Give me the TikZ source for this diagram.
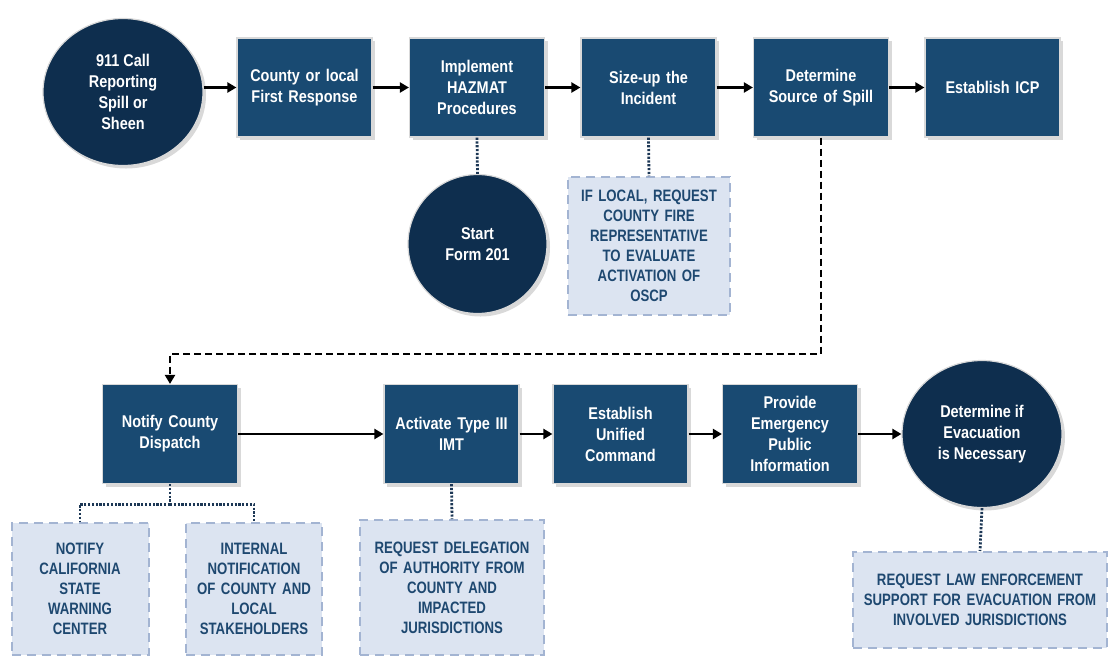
\documentclass[tikz,border=0pt]{standalone}
\usepackage{fontspec}
\newfontfamily\diagfont[FakeStretch=0.85]{Liberation Sans}
\newfontfamily\notefont[FakeStretch=0.80]{Liberation Sans}
\usetikzlibrary{arrows.meta,shapes.geometric,shadows}

\definecolor{boxblue}{RGB}{25,74,114}
\definecolor{navy}{RGB}{14,46,78}
\definecolor{notefill}{RGB}{220,228,241}
\definecolor{noteedge}{RGB}{163,180,210}
\definecolor{notetext}{RGB}{30,72,112}
\definecolor{dotline}{RGB}{28,55,85}

\begin{document}
\begin{tikzpicture}[x=1pt,y=-1pt,
  every node/.style={font=\diagfont\bfseries\fontsize{17}{21}\selectfont,
    align=center, inner sep=0pt},
  softshadow/.style={drop shadow={opacity=0.3, shadow xshift=3pt, shadow yshift=-3pt}},
  stepbox/.style={rectangle, fill=boxblue, draw=white!85!black, line width=1.2pt,
    text=white, minimum width=135pt, minimum height=99pt, text width=130pt, softshadow},
  roundstep/.style={ellipse, fill=navy, draw=white!85!black, line width=1.2pt,
    text=white, minimum width=160pt, minimum height=147pt, softshadow},
  startcirc/.style={circle, fill=navy, draw=white!85!black, line width=1.2pt,
    text=white, minimum size=139pt, softshadow},
  note/.style={rectangle, fill=notefill, draw=noteedge, line width=2pt,
    dash pattern=on 9pt off 6pt, text=notetext,
    font=\notefont\bfseries\fontsize{16.5}{20}\selectfont},
  flow/.style={line width=2.2pt, -{Triangle[length=9pt,width=10pt]}},
  handoff/.style={flow, dash pattern=on 7pt off 4pt},
  dots/.style={dotline, line width=2.8pt, dash pattern=on 2.2pt off 1.6pt},
]
\useasboundingbox (0,0) rectangle (1109,657);

% first row
\node[roundstep] (call) at (123,92) {911 Call\\Reporting\\Spill or\\Sheen};
\node[stepbox] (county) at (304.5,87.5) {County or local\\First Response};
\node[stepbox] (hazmat) at (477,87.5) {Implement\\HAZMAT\\Procedures};
\node[stepbox] (sizeup) at (648.5,87.5) {Size-up the\\Incident};
\node[stepbox] (source) at (821,87.5) {Determine\\Source of Spill};
\node[stepbox] (icp) at (992.5,87.5) {Establish ICP};

\node[startcirc] (form) at (477.5,244) {Start\\Form 201};
\node[note, minimum width=162pt, minimum height=138pt, text width=156pt] (local) at (649,246)
  {IF LOCAL, REQUEST\\COUNTY FIRE\\REPRESENTATIVE\\TO EVALUATE\\ACTIVATION OF\\OSCP};

% second row
\node[stepbox] (dispatch) at (170,434) {Notify County\\Dispatch};
\node[stepbox] (imt) at (451.5,434) {Activate Type III\\IMT};
\node[stepbox] (unified) at (620.5,434) {Establish\\Unified\\Command};
\node[stepbox] (public) at (790,434) {Provide\\Emergency\\Public\\Information};
\node[roundstep] (evac) at (982,434) {Determine if\\Evacuation\\is Necessary};

\node[note, minimum width=137pt, minimum height=132pt, text width=132pt] (ca) at (80,589)
  {NOTIFY\\CALIFORNIA\\STATE\\WARNING\\CENTER};
\node[note, minimum width=136pt, minimum height=132pt, text width=132pt] (internal) at (254,589)
  {INTERNAL\\NOTIFICATION\\OF COUNTY AND\\LOCAL\\STAKEHOLDERS};
\node[note, minimum width=184pt, minimum height=135pt, text width=180pt] (delegation) at (452,587.5)
  {REQUEST DELEGATION\\OF AUTHORITY FROM\\COUNTY AND\\IMPACTED\\JURISDICTIONS};
\node[note, minimum width=254pt, minimum height=96pt, text width=250pt] (law) at (980,600)
  {REQUEST LAW ENFORCEMENT\\SUPPORT FOR EVACUATION FROM\\INVOLVED JURISDICTIONS};

% main flow
\draw[flow] (call.east |- county.west) -- (county.west);
\draw[flow] (county) -- (hazmat);
\draw[flow] (hazmat) -- (sizeup);
\draw[flow] (sizeup) -- (source);
\draw[flow] (source) -- (icp);
\draw[handoff] (source.south) -- ++(0,216) -| (dispatch.north);
\draw[flow] (dispatch) -- (imt);
\draw[flow] (imt) -- (unified);
\draw[flow] (unified) -- (public);
\draw[flow] (public) -- (evac);

% supporting actions
\draw[dots] (hazmat.south) -- (form.north);
\draw[dots] (sizeup.south) -- (local.north);
\draw[dots] (dispatch.south) -- ++(0,20) coordinate (fork);
\draw[dots] (fork) -| (ca.north);
\draw[dots] (fork) -| (internal.north);
\draw[dots] (imt.south) -- (delegation.north);
\draw[dots] (evac.south) -- (law.north);
\end{tikzpicture}
\end{document}
